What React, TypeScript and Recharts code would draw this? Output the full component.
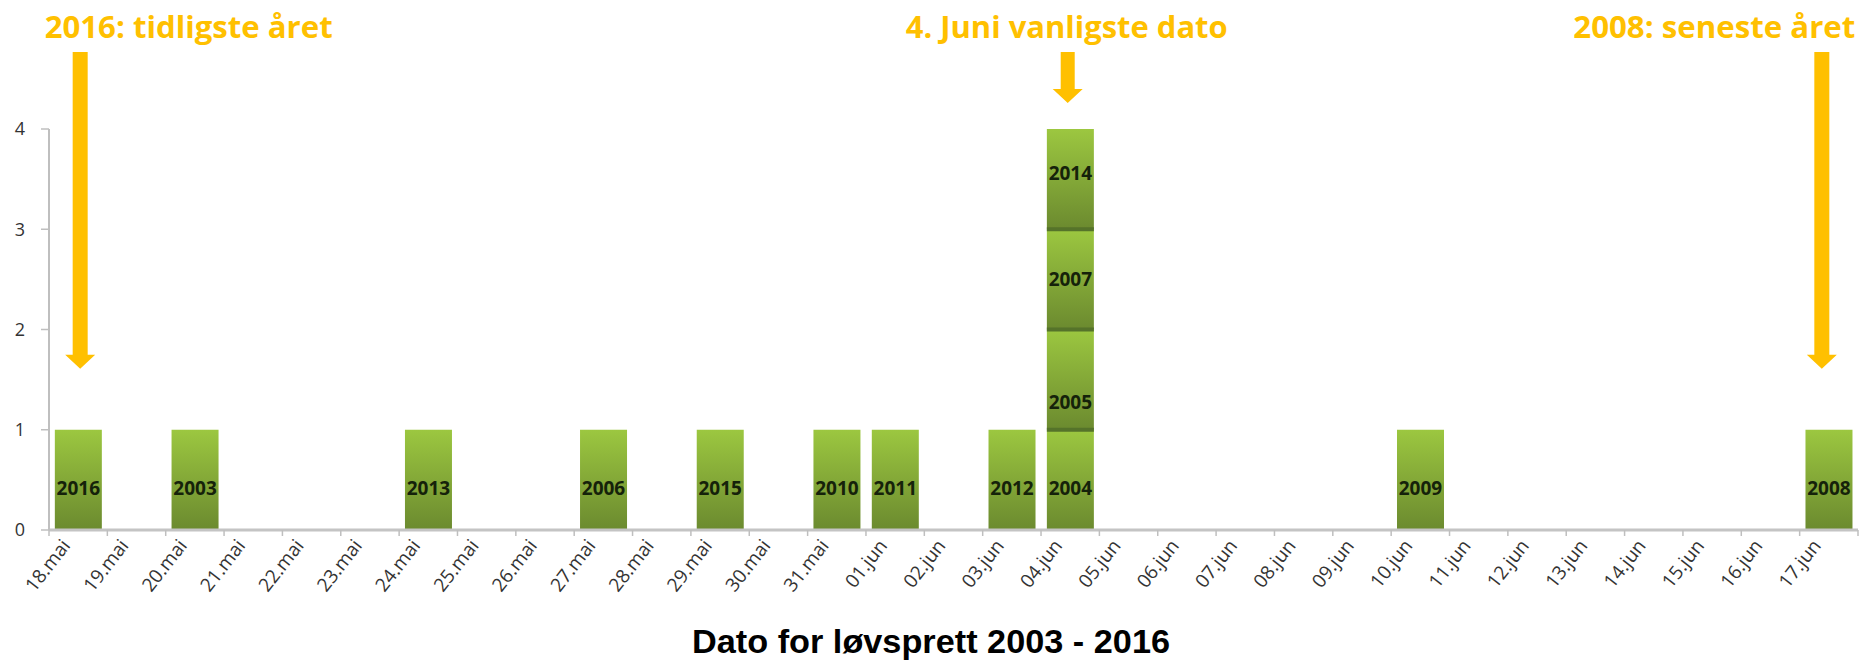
import React from 'react';
import { BarChart, Bar, XAxis, YAxis, LabelList, ReferenceDot } from 'recharts';

// ---------- data ----------
const dates = [
  '18.mai', '19.mai', '20.mai', '21.mai', '22.mai', '23.mai', '24.mai', '25.mai', '26.mai',
  '27.mai', '28.mai', '29.mai', '30.mai', '31.mai',
  '01.jun', '02.jun', '03.jun', '04.jun', '05.jun', '06.jun', '07.jun', '08.jun', '09.jun',
  '10.jun', '11.jun', '12.jun', '13.jun', '14.jun', '15.jun', '16.jun', '17.jun',
];
const years = ['2016', '2003', '2013', '2006', '2015', '2010', '2011', '2012', '2004', '2005', '2007', '2014', '2009', '2008'];
const yearDates = ['18.mai', '20.mai', '24.mai', '27.mai', '29.mai', '31.mai', '01.jun', '03.jun', '04.jun', '04.jun', '04.jun', '04.jun', '10.jun', '17.jun'];
const yTicks = [0, 1, 2, 3, 4];
const annotationDates = ['18.mai', '04.jun', '17.jun'];
const annotationTexts = ['2016: tidligste året', '4. Juni vanligste dato', '2008: seneste året'];
const xTitle = 'Dato for løvsprett 2003 - 2016';

const LAYERS = 4;
const data = dates.map((d) => {
  const ys = years.filter((_, i) => yearDates[i] === d);
  const row: any = { date: d, total: ys.length };
  ys.forEach((y, i) => {
    row['v' + i] = 1;
    row['y' + i] = y;
  });
  return row;
});

// ---------- layout ----------
const W = 1861;
const H = 661;
const MARGIN = { top: 129, right: 3, left: 0, bottom: 0 };
const Y_AXIS_W = 49;
const X_AXIS_H = 131;
const PLOT_W = W - MARGIN.left - MARGIN.right - Y_AXIS_W;
const HALF_BAND = PLOT_W / dates.length / 2;

const ORANGE = '#FFC000';
const LABEL_FRAC = [0.58, 0.72, 0.5, 0.44];

const annStyles = [
  { dx: 2, anchor: 'start', tx: -33.5, len: 288, gap: 61, shaft: 15 },
  { dx: -2.5, anchor: 'middle', tx: -3.5, len: 322, gap: 26, shaft: 14 },
  { dx: -7, anchor: 'end', tx: 26.5, len: 282, gap: 61, shaft: 15 },
];

function makeAnnotation(i: number) {
  return (props: any) => {
    const { cx, cy } = props;
    const s = annStyles[i];
    const ax = cx + s.dx;
    const tip = cy - s.gap;
    const headH = 14;
    const headHalf = 15;
    const top = 52;
    const sh = s.shaft / 2;
    const path = `M${ax - sh},${top} L${ax + sh},${top} L${ax + sh},${tip - headH} L${ax + headHalf},${tip - headH} L${ax},${tip} L${ax - headHalf},${tip - headH} L${ax - sh},${tip - headH} Z`;
    return (
      <g>
        <path d={path} fill={ORANGE} />
        <text
          x={cx + s.tx}
          y={38}
          textAnchor={s.anchor as any}
          fontFamily="'Open Sans', sans-serif"
          fontWeight={700}
          fontSize={31}
          fill={ORANGE}
          textLength={s.len}
          lengthAdjust="spacingAndGlyphs"
        >
          {annotationTexts[i]}
        </text>
      </g>
    );
  };
}

function makeBarShape(layer: number) {
  return (props: any) => {
    const { x, y, width, height } = props;
    if (!height || height <= 0) return <g />;
    return (
      <g>
        <rect x={x} y={y} width={width} height={height} fill="url(#barGrad)" />
        {layer > 0 && (
          <rect x={x} y={y + height - 2} width={width} height={4} fill="#55732a" />
        )}
      </g>
    );
  };
}

function makeLabel(layer: number) {
  return (props: any) => {
    const { x, y, width, height, value } = props;
    if (value === undefined || value === null || value === '') return null;
    return (
      <text
        x={x + width / 2}
        y={y + height * LABEL_FRAC[layer] + 7}
        textAnchor="middle"
        fontFamily="'Open Sans', sans-serif"
        fontWeight={700}
        fontSize={19}
        fill="#15220a"
      >
        {value}
      </text>
    );
  };
}

function XTick(props: any) {
  const { x, y, payload, index } = props;
  const lx = x - 7;
  const ly = y + 16;
  return (
    <g>
      <line x1={x - HALF_BAND} x2={x - HALF_BAND} y1={y} y2={y + 6} stroke="#bfbfbf" strokeWidth={1.5} />
      {index === dates.length - 1 && (
        <line x1={x + HALF_BAND} x2={x + HALF_BAND} y1={y} y2={y + 6} stroke="#bfbfbf" strokeWidth={1.5} />
      )}
      <g transform={`translate(${lx} ${ly}) rotate(-52)`}>
        <text
          x={0}
          y={0}
          textAnchor="end"
          fontFamily="'Open Sans', sans-serif"
          fontSize={19}
          fill="#333333"
        >
          {payload.value}
        </text>
      </g>
    </g>
  );
}

export default function App() {
  return (
    <div style={{ position: 'absolute', left: 0, top: 0, width: W, height: H, background: '#fff' }}>
      <svg width={W} height={H} style={{ position: 'absolute', left: 0, top: 0, pointerEvents: 'none' }}>
        <defs>
          <linearGradient id="barGrad" x1="0" y1="0" x2="0" y2="1">
            <stop offset="0%" stopColor="#9cc740" />
            <stop offset="100%" stopColor="#6b8a2f" />
          </linearGradient>
        </defs>
        <text
          x={931}
          y={653}
          textAnchor="middle"
          fontFamily="'Liberation Sans', Arial, sans-serif"
          fontWeight={700}
          fontSize={33}
          fill="#000"
          textLength={478}
          lengthAdjust="spacingAndGlyphs"
        >
          {xTitle}
        </text>
      </svg>
      <div style={{ position: 'absolute', left: 0, top: 0 }}>
        <BarChart width={W} height={H} data={data} margin={MARGIN} barCategoryGap="10%">
          <XAxis
            dataKey="date"
            interval={0}
            height={X_AXIS_H}
            tickLine={false}
            tickSize={0}
            tickMargin={0}
            axisLine={{ stroke: '#c4c4c4', strokeWidth: 3 }}
            tick={<XTick />}
          />
          <YAxis
            width={Y_AXIS_W}
            domain={[0, 4]}
            ticks={yTicks}
            interval={0}
            tickSize={8}
            tickMargin={16}
            axisLine={{ stroke: '#bfbfbf', strokeWidth: 2 }}
            tickLine={{ stroke: '#bfbfbf', strokeWidth: 1.5 }}
            tick={{ fill: '#333333', fontSize: 18, fontFamily: "'Open Sans', sans-serif" }}
          />
          {Array.from({ length: LAYERS }, (_, l) => (
            <Bar
              key={l}
              dataKey={'v' + l}
              stackId="a"
              isAnimationActive={false}
              shape={makeBarShape(l)}
            >
              <LabelList dataKey={'y' + l} content={makeLabel(l)} />
            </Bar>
          ))}
          {annotationDates.map((d, i) => (
            <ReferenceDot
              key={d}
              x={d}
              y={data.find((r) => r.date === d).total}
              ifOverflow="visible"
              shape={makeAnnotation(i)}
            />
          ))}
        </BarChart>
      </div>
    </div>
  );
}
